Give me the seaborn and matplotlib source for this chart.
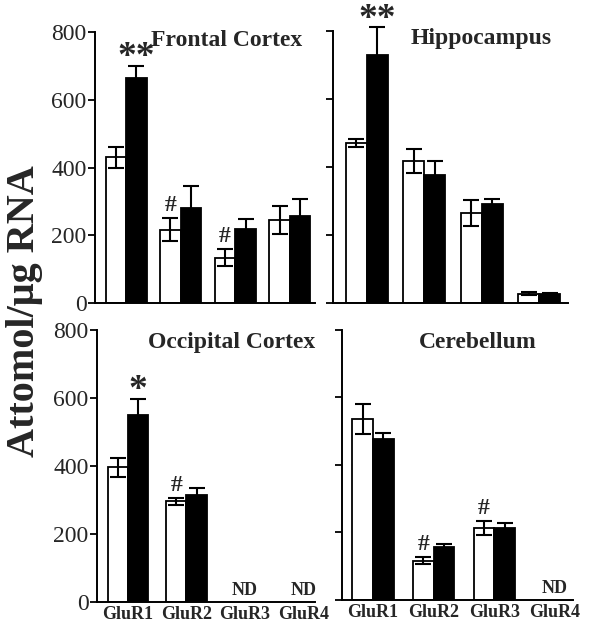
import numpy as np
import pandas as pd
import seaborn as sns
import matplotlib.pyplot as plt

# receptor subunits and the two groups (open bars / filled bars)
genes = ["GluR1", "GluR2", "GluR3", "GluR4"]
groups = ["Control", "Treated"]
regions = ["Frontal Cortex", "Hippocampus", "Occipital Cortex", "Cerebellum"]

# means (attomol/ug RNA); NaN = not detected
frontal_ctl = [430, 217, 134, 245]
frontal_trt = [665, 280, 218, 256]
hippo_ctl = [472, 419, 264, 28]
hippo_trt = [730, 377, 292, 26]
occip_ctl = [395, 295, np.nan, np.nan]
occip_trt = [550, 312, np.nan, np.nan]
cereb_ctl = [535, 115, 212, np.nan]
cereb_trt = [477, 156, 213, np.nan]

# error bars (SEM)
frontal_ctl_err = [30, 35, 25, 42]
frontal_trt_err = [35, 65, 30, 50]
hippo_ctl_err = [12, 36, 38, 5]
hippo_trt_err = [82, 42, 15, 5]
occip_ctl_err = [28, 10, np.nan, np.nan]
occip_trt_err = [46, 22, np.nan, np.nan]
cereb_ctl_err = [44, 10, 20, np.nan]
cereb_trt_err = [15, 8, 15, np.nan]

# significance marks: (gene index, group, mark)
frontal_marks = [(0, "Treated", "**"), (1, "Control", "#"), (2, "Control", "#")]
hippo_marks = [(0, "Treated", "**")]
occip_marks = [(0, "Treated", "*"), (1, "Control", "#")]
cereb_marks = [(1, "Control", "#"), (2, "Control", "#")]

means = [(frontal_ctl, frontal_trt), (hippo_ctl, hippo_trt),
         (occip_ctl, occip_trt), (cereb_ctl, cereb_trt)]
errs = [(frontal_ctl_err, frontal_trt_err), (hippo_ctl_err, hippo_trt_err),
        (occip_ctl_err, occip_trt_err), (cereb_ctl_err, cereb_trt_err)]
marks = [frontal_marks, hippo_marks, occip_marks, cereb_marks]

SERIF = ["Liberation Serif", "DejaVu Serif"]

sns.set_theme(style="ticks")
plt.rcParams["font.family"] = SERIF

fig = plt.figure(figsize=(5.9, 6.23), dpi=100)

# [left, bottom, width, height], xlim, bar width, title position
layout = [
    ([0.161, 0.5136, 0.373, 0.435], (-0.57, 3.46), 0.75, (0.60, 1.008)),
    ([0.564, 0.5136, 0.398, 0.436], (-0.59, 3.49), 0.73, (0.632, 1.014)),
    ([0.1644, 0.0345, 0.3695, 0.4366], (-0.53, 3.2), 0.70, (0.617, 0.99)),
    ([0.5797, 0.0377, 0.3915, 0.4334], (-0.51, 3.30), 0.68, (0.589, 0.99)),
]

for k in range(4):
    pos, xlim, width, title_xy = layout[k]
    ax = fig.add_axes(pos)
    ctl, trt = means[k]
    ctl_e, trt_e = errs[k]

    df = pd.DataFrame({
        "gene": genes * 2,
        "group": [groups[0]] * 4 + [groups[1]] * 4,
        "value": list(ctl) + list(trt),
        "err": list(ctl_e) + list(trt_e),
    })

    sns.barplot(data=df, x="gene", y="value", hue="group", order=genes,
                hue_order=groups, palette={"Control": "white", "Treated": "black"},
                edgecolor="black", linewidth=1.3, width=width, errorbar=None,
                legend=False, ax=ax)

    offs = {"Control": -width / 4, "Treated": width / 4}
    df["x"] = [genes.index(g) + offs[h] for g, h in zip(df["gene"], df["group"])]
    ok = df["value"].notna()
    ax.errorbar(df.loc[ok, "x"], df.loc[ok, "value"], yerr=df.loc[ok, "err"],
                fmt="none", ecolor="black", elinewidth=1.5, capsize=6,
                capthick=1.5, clip_on=False, zorder=3)

    # not detected
    for i, g in enumerate(genes):
        if np.isnan(ctl[i]) and np.isnan(trt[i]):
            ax.text(i, 6, "ND", ha="center", va="bottom", fontsize=13,
                    fontweight="bold")

    for i, grp, m in marks[k]:
        row = df[(df["gene"] == genes[i]) & (df["group"] == grp)].iloc[0]
        if "*" in m:
            ax.text(row["x"], row["value"] + row["err"] - 28, m,
                    ha="center", va="bottom", fontsize=27, fontweight="bold",
                    clip_on=False)
        else:
            ax.text(row["x"], row["value"] + row["err"] + 6, m, ha="center",
                    va="bottom", fontsize=17, fontweight="bold")

    ax.text(title_xy[0], title_xy[1], regions[k], transform=ax.transAxes,
            ha="center", va="top", fontsize=17, fontweight="bold")

    ax.set_xlim(*xlim)
    ax.set_ylim(0, 800)
    ax.set_yticks([0, 200, 400, 600, 800])
    ax.set_xlabel("")
    ax.set_ylabel("")
    sns.despine(ax=ax)
    for s in ["left", "bottom"]:
        ax.spines[s].set_linewidth(1.4)
        ax.spines[s].set_color("black")
    ax.tick_params(axis="y", length=5, width=1.3, color="black",
                   labelsize=17, pad=1)
    ax.tick_params(axis="x", length=0, labelsize=13, pad=3)
    if k % 2 == 1:
        ax.set_yticklabels([])
    if k < 2:
        ax.set_xticklabels([])
    else:
        for lab in ax.get_xticklabels():
            lab.set_fontweight("bold")

fig.text(0.042, 0.5, "Attomol/\u03bcg RNA", rotation=90, ha="center",
         va="center", fontsize=29, fontweight="bold")

fig.savefig("out.png", dpi=100, facecolor="white")
